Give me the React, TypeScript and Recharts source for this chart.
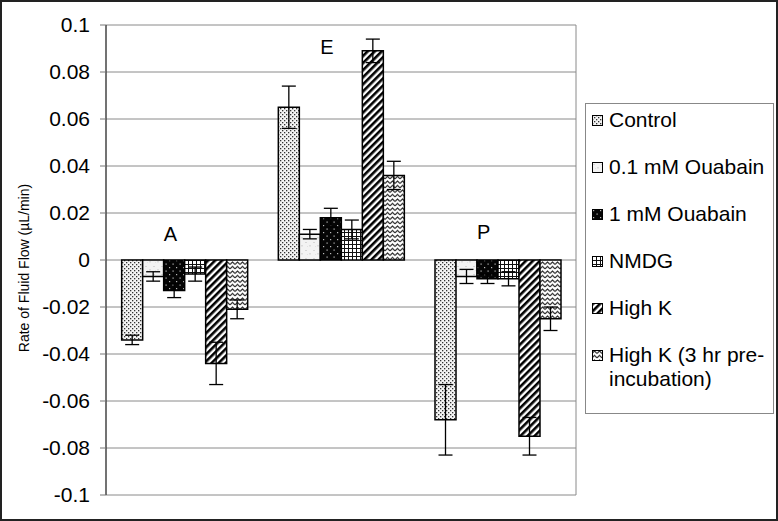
import React from 'react';
import { BarChart, Bar, XAxis, YAxis, CartesianGrid, ErrorBar, Legend, ReferenceDot } from 'recharts';

const categories = ['A', 'E', 'P'];
const seriesNames = ['Control', '0.1 mM Ouabain', '1 mM Ouabain', 'NMDG', 'High K', 'High K (3 hr pre-incubation)'];

const control = [-0.034, 0.065, -0.068];
const controlErr = [0.002, 0.009, 0.015];
const ouabain01 = [-0.007, 0.011, -0.007];
const ouabain01Err = [0.002, 0.002, 0.003];
const ouabain1 = [-0.013, 0.018, -0.008];
const ouabain1Err = [0.003, 0.004, 0.002];
const nmdg = [-0.006, 0.013, -0.008];
const nmdgErr = [0.003, 0.004, 0.003];
const highK = [-0.044, 0.089, -0.075];
const highKErr = [0.009, 0.005, 0.008];
const highK3 = [-0.021, 0.036, -0.025];
const highK3Err = [0.004, 0.006, 0.005];

const yTicks = [0.1, 0.08, 0.06, 0.04, 0.02, 0, -0.02, -0.04, -0.06, -0.08, -0.1];
const groupLabelY = [0.011, 0.0905, 0.012];

const FONT = '"Liberation Sans", Arial, Helvetica, sans-serif';

const seriesDefs = [
  { key: 'control', name: seriesNames[0], values: control, errors: controlErr, pattern: 'pControl' },
  { key: 'ouab01', name: seriesNames[1], values: ouabain01, errors: ouabain01Err, pattern: 'pOuab01' },
  { key: 'ouab1', name: seriesNames[2], values: ouabain1, errors: ouabain1Err, pattern: 'pOuab1' },
  { key: 'nmdg', name: seriesNames[3], values: nmdg, errors: nmdgErr, pattern: 'pNmdg' },
  { key: 'highK', name: seriesNames[4], values: highK, errors: highKErr, pattern: 'pHighK' },
  { key: 'highK3', name: seriesNames[5], values: highK3, errors: highK3Err, pattern: 'pHighK3' },
];

const data = categories.map((c, i) => {
  const row: any = { cat: c };
  seriesDefs.forEach((s) => {
    row[s.key] = s.values[i];
    row[s.key + 'Err'] = s.errors[i];
  });
  return row;
});

const Patterns = () => (
  <defs>
    <pattern id="pControl" width="4" height="4" patternUnits="userSpaceOnUse">
      <rect width="4" height="4" fill="#f4f4f4" />
      <rect x="0" y="0" width="1.3" height="1.3" fill="#333" />
      <rect x="2" y="2" width="1.3" height="1.3" fill="#333" />
    </pattern>
    <pattern id="pOuab01" width="8" height="8" patternUnits="userSpaceOnUse">
      <rect width="8" height="8" fill="#f3f3f3" />
      <rect x="1" y="2" width="2" height="1" fill="#d6d6d6" />
      <rect x="5" y="5" width="2" height="1.5" fill="#dcdcdc" />
      <rect x="3" y="6" width="1" height="1" fill="#e2e2e2" />
    </pattern>
    <pattern id="pOuab1" width="7" height="7" patternUnits="userSpaceOnUse">
      <rect width="7" height="7" fill="#050505" />
      <rect x="1" y="1" width="1.2" height="1.2" fill="#bbbbbb" />
      <rect x="4.5" y="4.5" width="1.2" height="1.2" fill="#bbbbbb" />
    </pattern>
    <pattern id="pNmdg" width="4" height="4" patternUnits="userSpaceOnUse">
      <rect width="4" height="4" fill="#ffffff" />
      <rect x="0" y="0" width="4" height="1" fill="#111" />
      <rect x="0" y="0" width="1" height="4" fill="#111" />
    </pattern>
    <pattern id="pHighK" width="5" height="5" patternUnits="userSpaceOnUse" patternTransform="rotate(45)">
      <rect width="5" height="5" fill="#ffffff" />
      <rect x="0" y="0" width="2.6" height="5" fill="#000" />
    </pattern>
    <pattern id="pHighK3" width="5" height="4.5" patternUnits="userSpaceOnUse">
      <rect width="5" height="4.5" fill="#ffffff" />
      <path d="M0 3.4 L2.5 1 L5 3.4" stroke="#111" strokeWidth="1.1" fill="none" />
    </pattern>
  </defs>
);

const LegendBox = () => (
  <div
    style={{
      position: 'relative',
      width: 189,
      height: 311,
      boxSizing: 'border-box',
      border: '1px solid #888',
      background: '#fff',
      fontFamily: FONT,
      fontSize: 21,
      color: '#000',
    }}
  >
    {seriesDefs.map((s, i) => (
      <div key={s.key} style={{ position: 'absolute', left: 0, top: 4 + i * 47, width: 187 }}>
        <svg width={11} height={11} style={{ position: 'absolute', left: 6, top: 7 }}>
          <rect x={0.5} y={0.5} width={10} height={10} fill={`url(#${s.pattern})`} stroke="#000" strokeWidth={1} />
        </svg>
        <div style={{ position: 'absolute', left: 23, top: 0, width: 164, lineHeight: '24px' }}>{s.name}</div>
      </div>
    ))}
  </div>
);

const AxisTitle = (props: any) => {
  const vb = props && props.viewBox ? props.viewBox : { x: 0, y: 25, width: 106, height: 470 };
  const cx = vb.x + 24;
  const cy = vb.y + vb.height / 2 + 8;
  return (
    <text
      x={cx}
      y={cy}
      transform={`rotate(-90, ${cx}, ${cy})`}
      textAnchor="middle"
      dominantBaseline="central"
      fontFamily={FONT}
      fontSize={14}
      fill="#000"
    >
      Rate of Fluid Flow (µL/min)
    </text>
  );
};

const GroupLabel = (text: string) => (props: any) => (
  <text
    x={props.cx - 14}
    y={props.cy}
    textAnchor="middle"
    dominantBaseline="central"
    fontFamily={FONT}
    fontSize={20}
    fill="#000"
  >
    {text}
  </text>
);

export default function App() {
  return (
    <div style={{ position: 'absolute', left: 0, top: 0, width: 778, height: 521, background: '#fff' }}>
      <BarChart
        width={778}
        height={521}
        data={data}
        margin={{ top: 25, right: 202, bottom: 26, left: 0 }}
        barCategoryGap="10%"
        barGap={0}
      >
        <Patterns />
        <CartesianGrid stroke="#8a8a8a" strokeWidth={1} verticalPoints={[576]} />
        <XAxis dataKey="cat" hide />
        <YAxis
          width={106}
          domain={[-0.1, 0.1]}
          ticks={yTicks}
          interval={0}
          allowDataOverflow
          tickFormatter={(v: number) => String(Math.round(v * 100) / 100)}
          tick={{ fill: '#000', fontSize: 21, fontFamily: FONT }}
          tickSize={6}
          tickMargin={10}
          axisLine={{ stroke: '#444', strokeWidth: 1.5 }}
          tickLine={{ stroke: '#777' }}
          label={{ content: AxisTitle }}
        />
        <Legend
          layout="vertical"
          align="center"
          verticalAlign="middle"
          content={() => <LegendBox />}
          wrapperStyle={{ left: 585, top: 103, width: 189, height: 311 }}
        />
        {seriesDefs.map((s) => (
          <Bar
            key={s.key}
            dataKey={s.key}
            name={s.name}
            fill={`url(#${s.pattern})`}
            stroke="#000"
            strokeWidth={1.5}
            isAnimationActive={false}
          >
            <ErrorBar dataKey={s.key + 'Err'} width={7} stroke="#000" strokeWidth={1.3} />
          </Bar>
        ))}
        {categories.map((c, i) => (
          <ReferenceDot
            key={c}
            x={c}
            y={groupLabelY[i]}
            r={0}
            shape={GroupLabel(c)}
            isFront
          />
        ))}
      </BarChart>
      <div
        style={{
          position: 'absolute',
          left: 0,
          top: 0,
          width: 778,
          height: 521,
          boxSizing: 'border-box',
          border: '2px solid #222',
          pointerEvents: 'none',
        }}
      />
    </div>
  );
}
